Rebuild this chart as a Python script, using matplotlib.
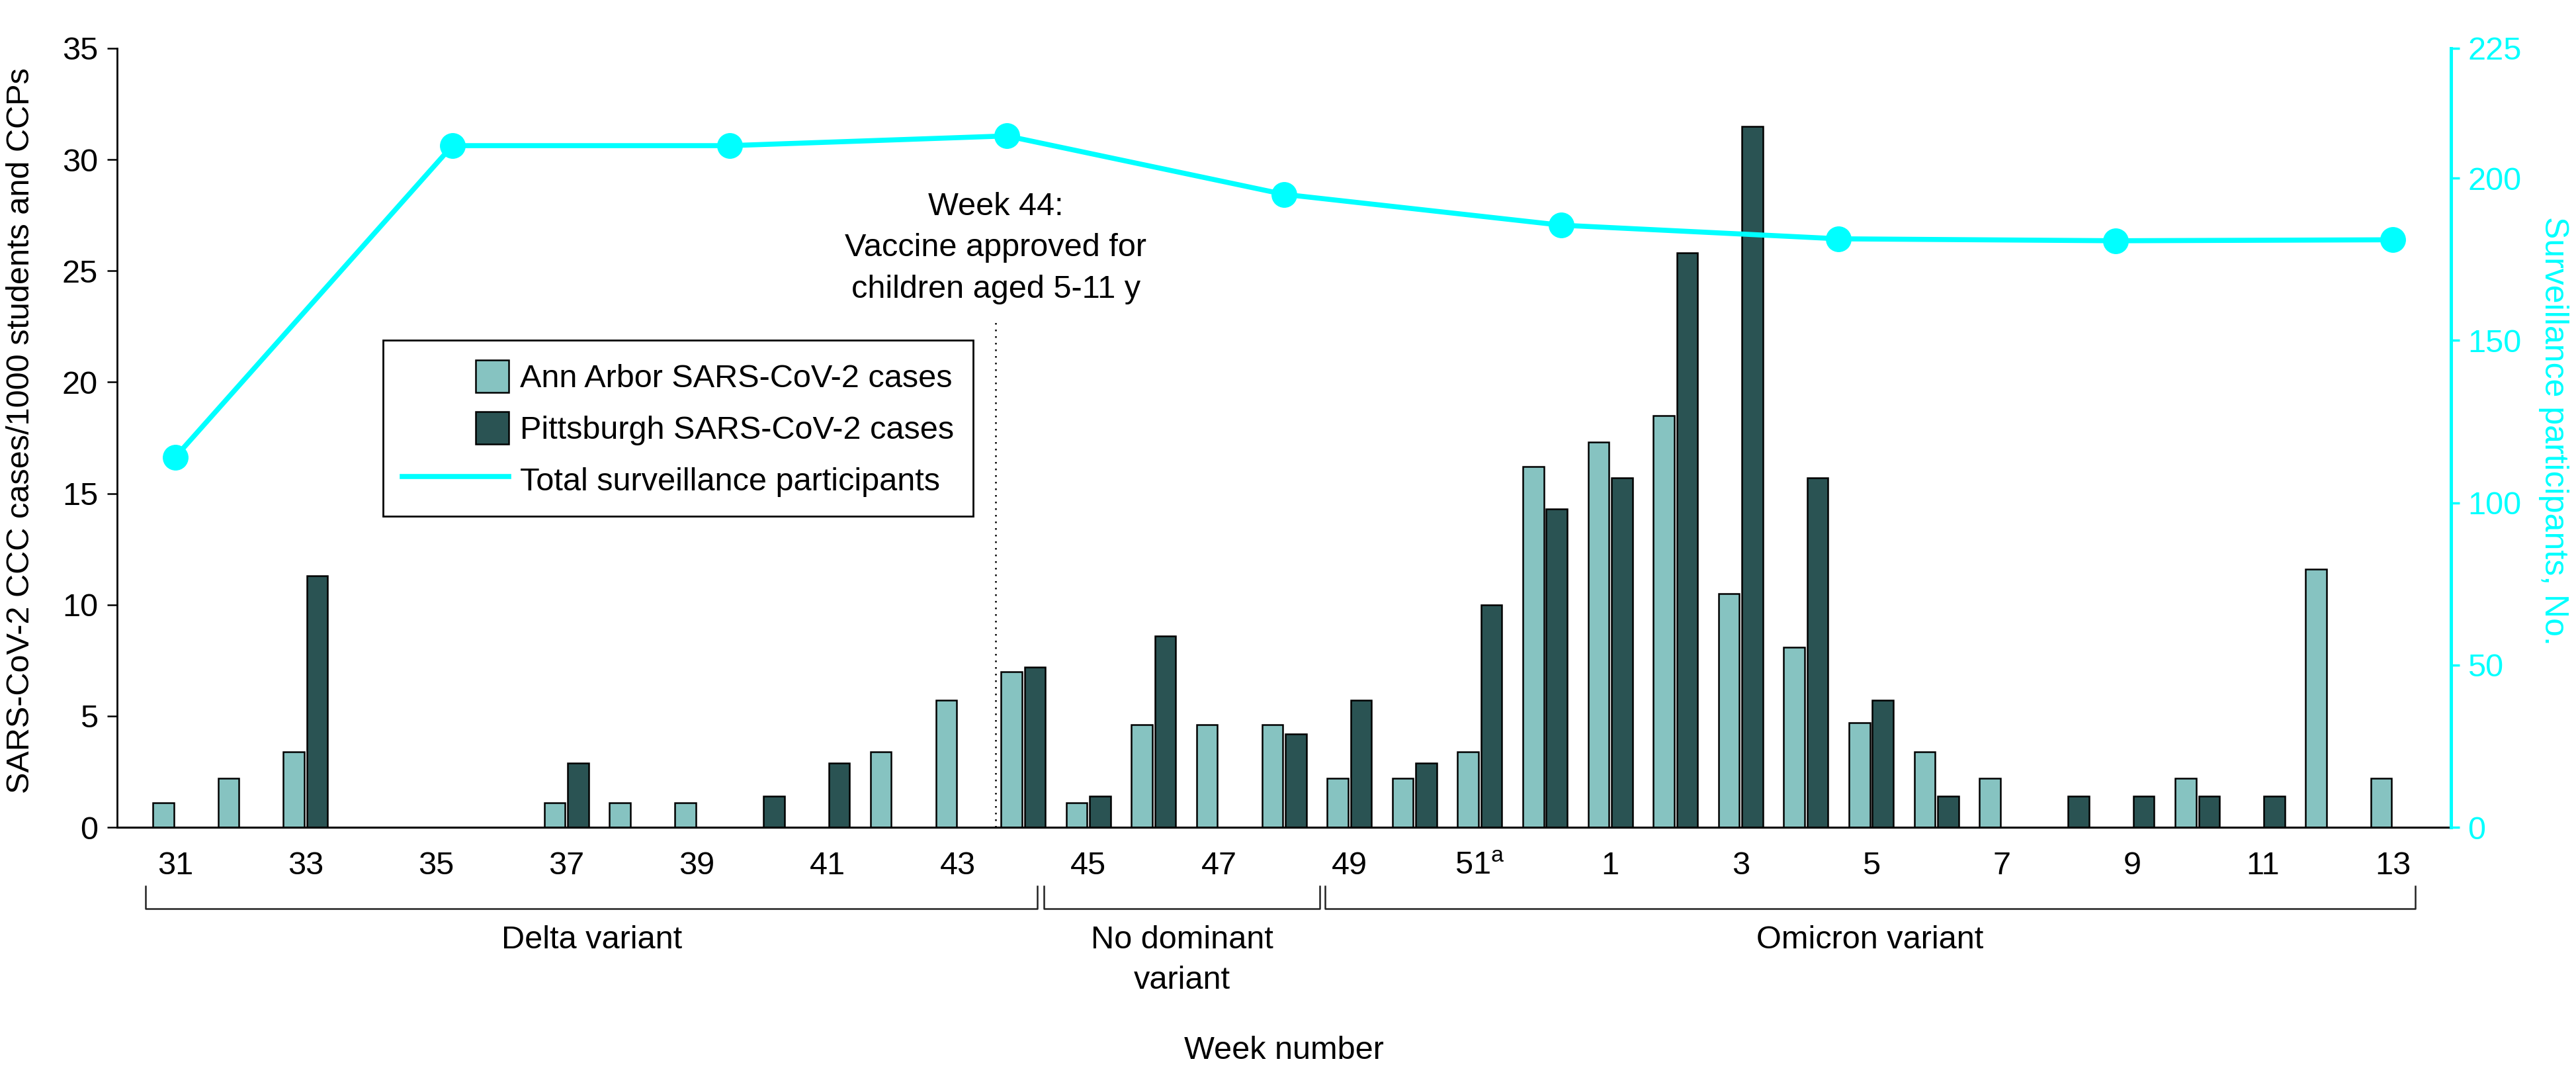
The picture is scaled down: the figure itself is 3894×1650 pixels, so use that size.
import numpy as np
import matplotlib
matplotlib.use("Agg")
import matplotlib.pyplot as plt
from matplotlib.patches import Rectangle, Patch
from matplotlib.lines import Line2D
from matplotlib.legend_handler import HandlerPatch
from matplotlib.transforms import blended_transform_factory

plt.rcParams['font.family'] = ['Liberation Sans', 'DejaVu Sans']
plt.rcParams['mathtext.fontset'] = 'custom'
plt.rcParams['mathtext.rm'] = 'Liberation Sans'
plt.rcParams['mathtext.it'] = 'Liberation Sans:italic'

# weeks 31-52 of 2021, then weeks 1-13 of 2022
weeks = list(range(31, 53)) + list(range(1, 14))

ann_arbor = [1.1, 2.2, 3.4, 0, 0, 0, 1.1, 1.1, 1.1, 0, 0, 3.4, 5.7, 7.0,
             1.1, 4.6, 4.6, 4.6, 2.2, 2.2, 3.4, 16.2,
             17.3, 18.5, 10.5, 8.1, 4.7, 3.4, 2.2, 0, 0, 2.2, 0, 11.6, 2.2]
pittsburgh = [0, 0, 11.3, 0, 0, 0, 2.9, 0, 0, 1.4, 2.9, 0, 0, 7.2,
              1.4, 8.6, 0, 4.2, 5.7, 2.9, 10.0, 14.3,
              15.7, 25.8, 31.5, 15.7, 5.7, 1.4, 0, 1.4, 1.4, 1.4, 1.4, 0, 0]

# surveillance participants, sampled at positions along the week axis
participant_pos = [0, 4.25, 8.5, 12.75, 17, 21.25, 25.5, 29.75, 34]
participants = [114, 210, 210, 213, 195, 185.5, 181.3, 180.7, 181.0]

tick_labels = ['31', '33', '35', '37', '39', '41', '43', '45', '47', '49',
               r'51$^{\mathrm{a}}$', '1', '3', '5', '7', '9', '11', '13']

right_ticks = [0, 50, 100, 150, 200, 240]
right_tick_labels = ['0', '50', '100', '150', '200', '225']

variants = ['Delta variant', 'No dominant\nvariant', 'Omicron variant']
variant_start = [-0.45, 13.32, 17.63]
variant_end = [13.22, 17.55, 34.34]

light = '#86C3C1'
dark = '#2A5353'
cyan = '#00FFFF'
fs = 35


def square_patch(legend, orig_handle, xdescent, ydescent, width, height, fontsize):
    side = height
    return Rectangle((width - side - xdescent, -ydescent), side, side)


fig = plt.figure(figsize=(38.94, 16.5), dpi=100)
ax = fig.add_axes([0.04545, 0.2424, 0.90605, 0.7134])

x = np.arange(len(weeks))
ax.bar(x - 0.18, ann_arbor, width=0.32, color=light, edgecolor='black', linewidth=1.8, zorder=2)
ax.bar(x + 0.18, pittsburgh, width=0.32, color=dark, edgecolor='black', linewidth=1.8, zorder=2)

ax.set_xlim(-0.89, 34.89)
ax.set_ylim(0, 35)
ax.set_yticks(range(0, 36, 5))
ax.set_xticks(x[::2])
ax.set_xticklabels(tick_labels)
ax.tick_params(axis='x', length=0, pad=26, labelsize=fs)
ax.tick_params(axis='y', length=10.8, width=1.8, pad=10, labelsize=fs)
for s in ['top', 'right']:
    ax.spines[s].set_visible(False)
ax.spines['left'].set_linewidth(2)
ax.spines['bottom'].set_linewidth(2.2)

# week 44 vaccine marker
vaccine_x = weeks.index(44) - 0.42
ax.plot([vaccine_x, vaccine_x], [0, 22.8], color='black', lw=1.8,
        linestyle=(0, (1, 3)), zorder=1)
ax.text(vaccine_x, 28.55, 'Week 44:\nVaccine approved for\nchildren aged 5-11 y',
        ha='center', va='top', fontsize=fs, linespacing=1.5)

# variant brackets below the axis
trans = blended_transform_factory(ax.transData, ax.transAxes)
for name, a, b in zip(variants, variant_start, variant_end):
    ax.plot([a, a, b, b], [-0.0756, -0.1045, -0.1045, -0.0756], color='#222222',
            lw=1.8, transform=trans, clip_on=False)
    ax.text((a + b) / 2, -0.1257, name, ha='center', va='top', fontsize=fs,
            linespacing=1.45, transform=trans)

ax.text(0.5, -0.2676, 'Week number', ha='center', va='top', fontsize=fs,
        transform=ax.transAxes)

fig.text(0.0082, 0.6055, 'SARS-CoV-2 CCC cases/1000 students and CCPs',
         rotation=90, ha='center', va='center', fontsize=fs)

ax2 = ax.twinx()
ax2.plot(participant_pos, participants, color=cyan, lw=5.5, marker='o',
         markersize=27, zorder=3)
ax2.set_ylim(0, 240)
ax2.set_yticks(right_ticks)
ax2.set_yticklabels(right_tick_labels)
ax2.tick_params(axis='y', colors=cyan, length=9.4, width=2.5, pad=8.6, labelsize=fs)
for s in ['top', 'left', 'bottom']:
    ax2.spines[s].set_visible(False)
ax2.spines['right'].set_color(cyan)
ax2.spines['right'].set_linewidth(3.6)

fig.text(0.9913, 0.6055, 'Surveillance participants, No.', rotation=270,
         ha='center', va='center', fontsize=fs + 1, color=cyan)

handles = [Patch(facecolor=light, edgecolor='black', linewidth=1.8),
           Patch(facecolor=dark, edgecolor='black', linewidth=1.8),
           Line2D([], [], color=cyan, lw=5.5)]
labels = ['Ann Arbor SARS-CoV-2 cases', 'Pittsburgh SARS-CoV-2 cases',
          'Total surveillance participants']
leg = ax2.legend(handles, labels, loc='upper left', bbox_to_anchor=(0.114, 0.625),
                 borderaxespad=0, fontsize=fs, handlelength=3.3, handleheight=1.2,
                 labelspacing=0.55, borderpad=0.6, handletextpad=0.35,
                 fancybox=False, framealpha=1, edgecolor='black',
                 handler_map={Patch: HandlerPatch(patch_func=square_patch)})
leg.get_frame().set_linewidth(2)

fig.savefig('out.png', dpi=100, facecolor='white')
